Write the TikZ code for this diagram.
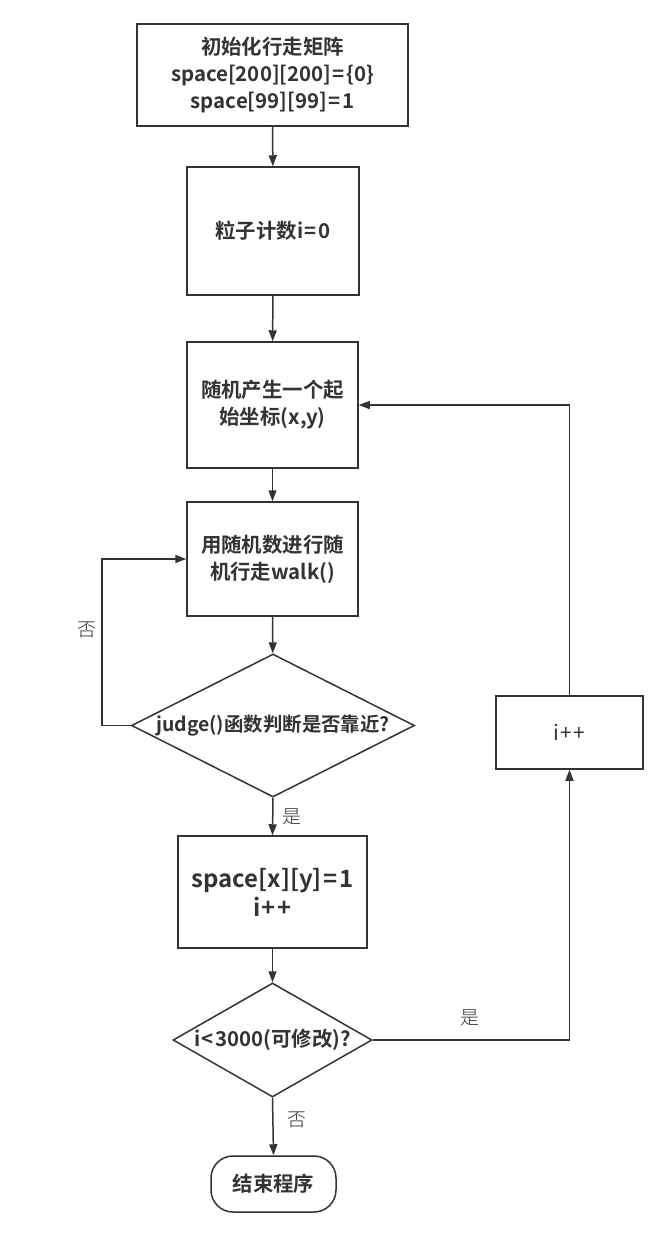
\documentclass[tikz,border=0pt]{standalone}
\usepackage{fontspec}
\setmainfont{Noto Sans CJK SC}[BoldFont={Noto Sans CJK SC Bold}]
\newfontfamily\lblfont{Noto Sans CJK SC Light}
\usetikzlibrary{shapes.geometric,arrows.meta}
\definecolor{ink}{HTML}{333333}
\newcommand{\myeq}{\kern1.5bp=\kern1.5bp}
\newcommand{\mylt}{\kern1.5bp<\kern1.5bp}
\newcommand{\mypp}{\kern1bp+\kern2bp+}
\tikzset{
  box/.style={draw=ink,line width=1.5bp,rectangle,inner sep=0pt,align=center,text=ink,font=\bfseries\fontsize{20.5}{27}\selectfont},
  dia/.style={draw=ink,line width=1.5bp,diamond,inner sep=0pt,text=ink,font=\bfseries\fontsize{19.5}{26}\selectfont},
  term/.style={draw=ink,line width=1.5bp,rectangle,rounded corners=22bp,inner sep=0pt,text=ink,font=\bfseries\fontsize{20.5}{26}\selectfont},
  flow/.style={draw=ink,line width=1.5bp,-{Triangle[length=11bp,width=8bp]}},
  lbl/.style={text=ink,font=\lblfont\fontsize{19}{22}\selectfont,inner sep=0pt}
}
\begin{document}
\begin{tikzpicture}[x=1bp,y=-1bp]
\useasboundingbox[fill=white] (0,0) rectangle (667,1238);
\node[box,minimum width=271bp,minimum height=102bp] (b1) at (272.5,75) {初始化行走矩阵\\space[200][200]\myeq\{0\}\\space[99][99]\myeq1};
\node[box,minimum width=172bp,minimum height=128bp] (b2) at (273,231) {粒子计数i\myeq0};
\node[box,minimum width=171bp,minimum height=126bp] (b3) at (272.5,405) {随机产生一个起\\始坐标(x,y)};
\node[box,minimum width=171bp,minimum height=114bp] (b4) at (272.5,559) {用随机数进行随\\机行走walk()};
\node[dia,minimum width=283bp,minimum height=143bp] (d1) at (273,725.5) {\makebox[0pt]{judge()函数判断是否靠近?}};
\node[box,minimum width=189bp,minimum height=112bp,font=\bfseries\fontsize{24}{29}\selectfont] (b5) at (272.5,892) {space[x][y]\myeq1\\i\mypp};
\node[dia,minimum width=199bp,minimum height=114bp,font=\bfseries\fontsize{20.5}{26}\selectfont] (d2) at (272.5,1040) {\makebox[0pt]{i\mylt3000(可修改)?}};
\node[term,minimum width=125bp,minimum height=56bp] (e) at (273.5,1184) {结束程序};
\node[box,minimum width=147bp,minimum height=73bp,font=\fontsize{21}{24}\selectfont] (ipp) at (569.5,732.5) {i\mypp};
\coordinate (lp) at (102,725.5);
\draw[flow] (b1) -- (b2);
\draw[flow] (b2) -- (b3);
\draw[flow] (b3) -- (b4);
\draw[flow] (b4) -- (d1);
\draw[flow] (d1.west) -- (lp) |- (b4.west);
\draw[flow] (d1.south) -- (b5.north);
\draw[flow] (b5) -- (d2);
\draw[flow] (d2.south) -- (e.north);
\draw[flow] (d2.east) -| (ipp.south);
\draw[flow] (ipp.north) |- (b3.east);
\node[lbl] (n1) at (87,630) {否};
\node[lbl] (y1) at (292,817) {是};
\node[lbl] (y2) at (470,1018) {是};
\node[lbl] (n2) at (297,1120) {否};
\end{tikzpicture}
\end{document}
